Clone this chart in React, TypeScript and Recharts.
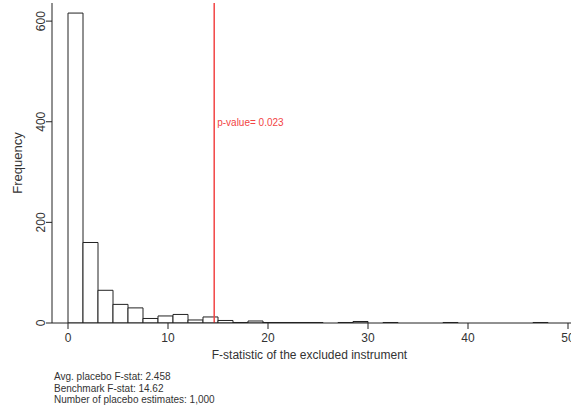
import React from 'react';
import { ComposedChart, Bar, XAxis, YAxis, ReferenceLine, ReferenceDot, Label } from 'recharts';

// Histogram bins (midpoints, width 1.5) and frequencies
const binMids = [0.75, 2.25, 3.75, 5.25, 6.75, 8.25, 9.75, 11.25, 12.75, 14.25, 15.75, 17.25, 18.75, 20.25, 21.75, 23.25, 24.75, 26.25, 27.75, 29.25, 30.75, 32.25, 33.75, 35.25, 36.75, 38.25, 39.75, 41.25, 42.75, 44.25, 45.75, 47.25, 48.75, 50.25];
const frequencies = [616, 160, 65, 37, 30, 9, 14, 17, 6, 12, 5, 1, 4, 1, 1, 1, 1, 0, 1, 3, 0, 1, 0, 0, 0, 1, 0, 0, 0, 0, 0, 1, 0, 0];
const xTicks = [0, 10, 20, 30, 40, 50];
const yTicks = [0, 200, 400, 600];
const benchmarkF = 14.62;
const pValueLabel = 'p-value= 0.023';
const pValueY = 400;
const notes = ['Avg. placebo F-stat: 2.458', 'Benchmark F-stat: 14.62', 'Number of placebo estimates: 1,000'];
const xLabel = 'F-statistic of the excluded instrument';
const yLabel = 'Frequency';

const data = binMids.map((m, i) => ({ mid: m, count: frequencies[i] }));

const FONT = '"Liberation Sans", Arial, sans-serif';

const YTick = (props: any) => {
  const { x, y, payload } = props;
  const tx = x + 1;
  return (
    <text x={tx} y={y} transform={`rotate(-90, ${tx}, ${y})`} textAnchor="middle" fontSize={12} fill="#333" fontFamily={FONT}>
      {payload.value}
    </text>
  );
};

const XTick = (props: any) => {
  const { x, y, payload } = props;
  return (
    <text x={x} y={y + 11} textAnchor="middle" fontSize={12} fill="#333" fontFamily={FONT}>
      {payload.value}
    </text>
  );
};

export default function App() {
  return (
    <div style={{ position: 'absolute', left: 0, top: 0, width: 571, height: 413, background: '#fff', fontFamily: FONT }}>
      <ComposedChart
        width={571}
        height={413}
        data={data}
        margin={{ top: 3, right: 0, bottom: 0, left: 0 }}
        barCategoryGap={0}
        barGap={0}
      >
        <XAxis
          dataKey="mid"
          type="number"
          domain={[-1.6, 50.3]}
          ticks={xTicks}
          height={90}
          allowDataOverflow
          stroke="#222"
          tickSize={6}
          tickLine={{ stroke: '#222' }}
          tick={<XTick />}
          interval={0}
        >
          <Label
            content={(p: any) => {
              const vb = p.viewBox;
              return (
                <text x={vb.x + vb.width / 2 - 2} y={vb.y + 36} textAnchor="middle" fontSize={12} fill="#333" fontFamily={FONT}>
                  {xLabel}
                </text>
              );
            }}
          />
        </XAxis>
        <XAxis xAxisId="top" orientation="top" dataKey="mid" type="number" domain={[-1.6, 50.3]} height={0} tick={false} tickLine={false} stroke="#999" allowDataOverflow />
        <YAxis
          type="number"
          domain={[0, 636]}
          ticks={yTicks}
          width={52}
          stroke="#222"
          tickSize={6}
          tickLine={{ stroke: '#222' }}
          tick={<YTick />}
          interval={0}
          allowDataOverflow
        >
          <Label
            content={(p: any) => {
              const vb = p.viewBox;
              const cx = 22;
              const cy = vb.y + vb.height / 2;
              return (
                <text x={cx} y={cy} transform={`rotate(-90, ${cx}, ${cy})`} textAnchor="middle" fontSize={13} fill="#333" fontFamily={FONT}>
                  {yLabel}
                </text>
              );
            }}
          />
        </YAxis>
        <Bar dataKey="count" fill="#fff" stroke="#222" strokeWidth={1} isAnimationActive={false} />
        <ReferenceLine x={benchmarkF} stroke="#f24444" strokeWidth={1.5} />
        <ReferenceDot x={benchmarkF} y={pValueY} r={0} fill="none" stroke="none">
          <Label
            content={(p: any) => {
              const vb = p.viewBox;
              return (
                <text x={vb.x + 3} y={vb.y + 4} fontSize={10} fill="#f24444" fontFamily={FONT}>
                  {pValueLabel}
                </text>
              );
            }}
          />
        </ReferenceDot>
      </ComposedChart>
      <div style={{ position: 'absolute', left: 54, top: 371, fontSize: 10, lineHeight: '11.7px', color: '#333', fontFamily: FONT }}>
        {notes.map((n) => (
          <div key={n}>{n}</div>
        ))}
      </div>
    </div>
  );
}
